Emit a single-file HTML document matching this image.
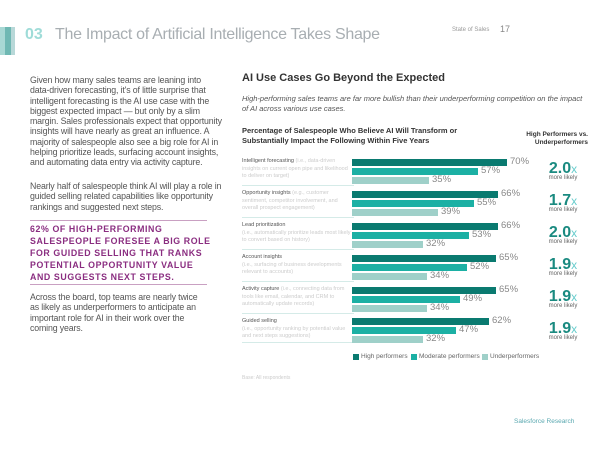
<!DOCTYPE html>
<html><head><style>
*{margin:0;padding:0;box-sizing:border-box}
body{width:600px;height:450px;background:#fff;position:relative;overflow:hidden;font-family:"Liberation Sans",sans-serif}
.a{position:absolute;white-space:nowrap}
.bar{position:absolute;height:7px;left:352px}
.h{background:#0a7a70}.m{background:#1cb0a4}.u{background:#9fd0c9}
.v{position:absolute;font-size:9.5px;color:#888}
.lab{position:absolute;left:242px;font-size:5.5px;color:#ccc;line-height:7.5px;width:110px;white-space:normal}
.lab b{font-weight:normal;color:#555}
.ln{position:absolute;left:242px;width:112px;height:1px;background:#d5ebe8}
.x{position:absolute;left:538px;width:50px;text-align:center}
.x span{font-size:16px;font-weight:bold;color:#1a8a80}
.x i{font-style:normal;font-size:12px;color:#6cc}
.x div{font-size:6px;color:#666;margin-top:-3px}
.p{position:absolute;left:30px;font-size:8.8px;color:#555;line-height:10.3px;white-space:nowrap;letter-spacing:-0.15px}
</style></head><body>
<div class="a" style="left:0;top:27px;width:5px;height:28px;background:#a8d8d4"></div>
<div class="a" style="left:5px;top:27px;width:6px;height:28px;background:#6fb8b3"></div>
<div class="a" style="left:11px;top:27px;width:4px;height:28px;background:#b8d8d8"></div>
<div class="a" style="left:25px;top:26px;font-size:16px;color:#9fdcd8;font-weight:bold">03</div>
<div class="a" style="left:55px;top:26px;font-size:16px;color:#a8aeb2;letter-spacing:-0.3px">The Impact of Artificial Intelligence Takes Shape</div>
<div class="a" style="left:452px;top:27px;font-size:6px;color:#999">State of Sales</div>
<div class="a" style="left:500px;top:24px;font-size:9px;color:#888">17</div>

<div class="p" style="top:75px">Given how many sales teams are leaning into<br>data-driven forecasting, it's of little surprise that<br>intelligent forecasting is the AI use case with the<br>biggest expected impact — but only by a slim<br>margin. Sales professionals expect that opportunity<br>insights will have nearly as great an influence. A<br>majority of salespeople also see a big role for AI in<br>helping prioritize leads, surfacing account insights,<br>and automating data entry via activity capture.</div>
<div class="p" style="top:181px">Nearly half of salespeople think AI will play a role in<br>guided selling related capabilities like opportunity<br>rankings and suggested next steps.</div>
<div class="a" style="left:30px;top:220px;width:177px;height:1px;background:#c9a0c2"></div>
<div class="p" style="top:223px;font-size:8.8px;font-weight:bold;color:#8a2d80;line-height:12px;letter-spacing:0.6px">62% OF HIGH-PERFORMING<br>SALESPEOPLE FORESEE A BIG ROLE<br>FOR GUIDED SELLING THAT RANKS<br>POTENTIAL OPPORTUNITY VALUE<br>AND SUGGESTS NEXT STEPS.</div>
<div class="a" style="left:30px;top:284px;width:177px;height:1px;background:#c9a0c2"></div>
<div class="p" style="top:292px">Across the board, top teams are nearly twice<br>as likely as underperformers to anticipate an<br>important role for AI in their work over the<br>coming years.</div>

<div class="a" style="left:242px;top:72px;font-size:11px;font-weight:bold;color:#333">AI Use Cases Go Beyond the Expected</div>
<div class="a" style="left:242px;top:94px;font-size:7.5px;color:#555;font-style:italic;line-height:10px;white-space:normal;width:345px">High-performing sales teams are far more bullish than their underperforming competition on the impact of AI across various use cases.</div>
<div class="a" style="left:242px;top:126px;font-size:7.5px;font-weight:bold;color:#333;line-height:10px;white-space:normal;width:250px">Percentage of Salespeople Who Believe AI Will Transform or Substantially Impact the Following Within Five Years</div>
<div class="a" style="left:520px;top:131px;font-size:6.5px;font-weight:bold;color:#333;line-height:8px;text-align:right;width:68px;white-space:normal">High Performers vs. Underperformers</div>

<div class="lab" style="top:158px"><b>Intelligent forecasting</b> (i.e., data-driven insights on current open pipe and likelihood to deliver on target)</div>
<div class="ln" style="top:185px"></div>
<div class="bar h" style="top:159px;width:155px"></div><div class="v" style="left:510px;top:156px">70%</div>
<div class="bar m" style="top:168px;width:126px"></div><div class="v" style="left:481px;top:165px">57%</div>
<div class="bar u" style="top:177px;width:77px"></div><div class="v" style="left:432px;top:174px">35%</div>
<div class="x" style="top:160px"><span>2.0</span><i>x</i><div>more likely</div></div>

<div class="lab" style="top:190px"><b>Opportunity insights</b> (e.g., customer sentiment, competitor involvement, and overall prospect engagement)</div>
<div class="ln" style="top:217px"></div>
<div class="bar h" style="top:191px;width:146px"></div><div class="v" style="left:501px;top:188px">66%</div>
<div class="bar m" style="top:200px;width:122px"></div><div class="v" style="left:477px;top:197px">55%</div>
<div class="bar u" style="top:209px;width:86px"></div><div class="v" style="left:441px;top:206px">39%</div>
<div class="x" style="top:192px"><span>1.7</span><i>x</i><div>more likely</div></div>

<div class="lab" style="top:222px"><b>Lead prioritization</b><br>(i.e., automatically prioritize leads most likely to convert based on history)</div>
<div class="ln" style="top:249px"></div>
<div class="bar h" style="top:223px;width:146px"></div><div class="v" style="left:501px;top:220px">66%</div>
<div class="bar m" style="top:232px;width:117px"></div><div class="v" style="left:472px;top:229px">53%</div>
<div class="bar u" style="top:241px;width:71px"></div><div class="v" style="left:426px;top:238px">32%</div>
<div class="x" style="top:224px"><span>2.0</span><i>x</i><div>more likely</div></div>

<div class="lab" style="top:254px"><b>Account insights</b><br>(i.e., surfacing of business developments relevant to accounts)</div>
<div class="ln" style="top:281px"></div>
<div class="bar h" style="top:255px;width:144px"></div><div class="v" style="left:499px;top:252px">65%</div>
<div class="bar m" style="top:264px;width:115px"></div><div class="v" style="left:470px;top:261px">52%</div>
<div class="bar u" style="top:273px;width:75px"></div><div class="v" style="left:430px;top:270px">34%</div>
<div class="x" style="top:256px"><span>1.9</span><i>x</i><div>more likely</div></div>

<div class="lab" style="top:286px"><b>Activity capture</b> (i.e., connecting data from tools like email, calendar, and CRM to automatically update records)</div>
<div class="ln" style="top:313px"></div>
<div class="bar h" style="top:287px;width:144px"></div><div class="v" style="left:499px;top:284px">65%</div>
<div class="bar m" style="top:296px;width:108px"></div><div class="v" style="left:463px;top:293px">49%</div>
<div class="bar u" style="top:305px;width:75px"></div><div class="v" style="left:430px;top:302px">34%</div>
<div class="x" style="top:288px"><span>1.9</span><i>x</i><div>more likely</div></div>

<div class="lab" style="top:318px"><b>Guided selling</b><br>(i.e., opportunity ranking by potential value and next steps suggestions)</div>
<div class="ln" style="top:342px"></div>
<div class="bar h" style="top:318px;width:137px"></div><div class="v" style="left:492px;top:315px">62%</div>
<div class="bar m" style="top:327px;width:104px"></div><div class="v" style="left:459px;top:324px">47%</div>
<div class="bar u" style="top:336px;width:71px"></div><div class="v" style="left:426px;top:333px">32%</div>
<div class="x" style="top:320px"><span>1.9</span><i>x</i><div>more likely</div></div>

<div class="a" style="left:353px;top:354px;width:6px;height:6px;background:#0a7a70"></div>
<div class="a" style="left:361px;top:353px;font-size:6.5px;color:#666">High performers</div>
<div class="a" style="left:411px;top:354px;width:6px;height:6px;background:#1cb0a4"></div>
<div class="a" style="left:419px;top:353px;font-size:6.5px;color:#666">Moderate performers</div>
<div class="a" style="left:482px;top:354px;width:6px;height:6px;background:#9fd0c9"></div>
<div class="a" style="left:490px;top:353px;font-size:6.5px;color:#666">Underperformers</div>

<div class="a" style="left:242px;top:375px;font-size:5px;color:#ccc">Base: All respondents</div>
<div class="a" style="left:514px;top:418px;font-size:6.5px;color:#5aa8b0">Salesforce Research</div>
</body></html>
